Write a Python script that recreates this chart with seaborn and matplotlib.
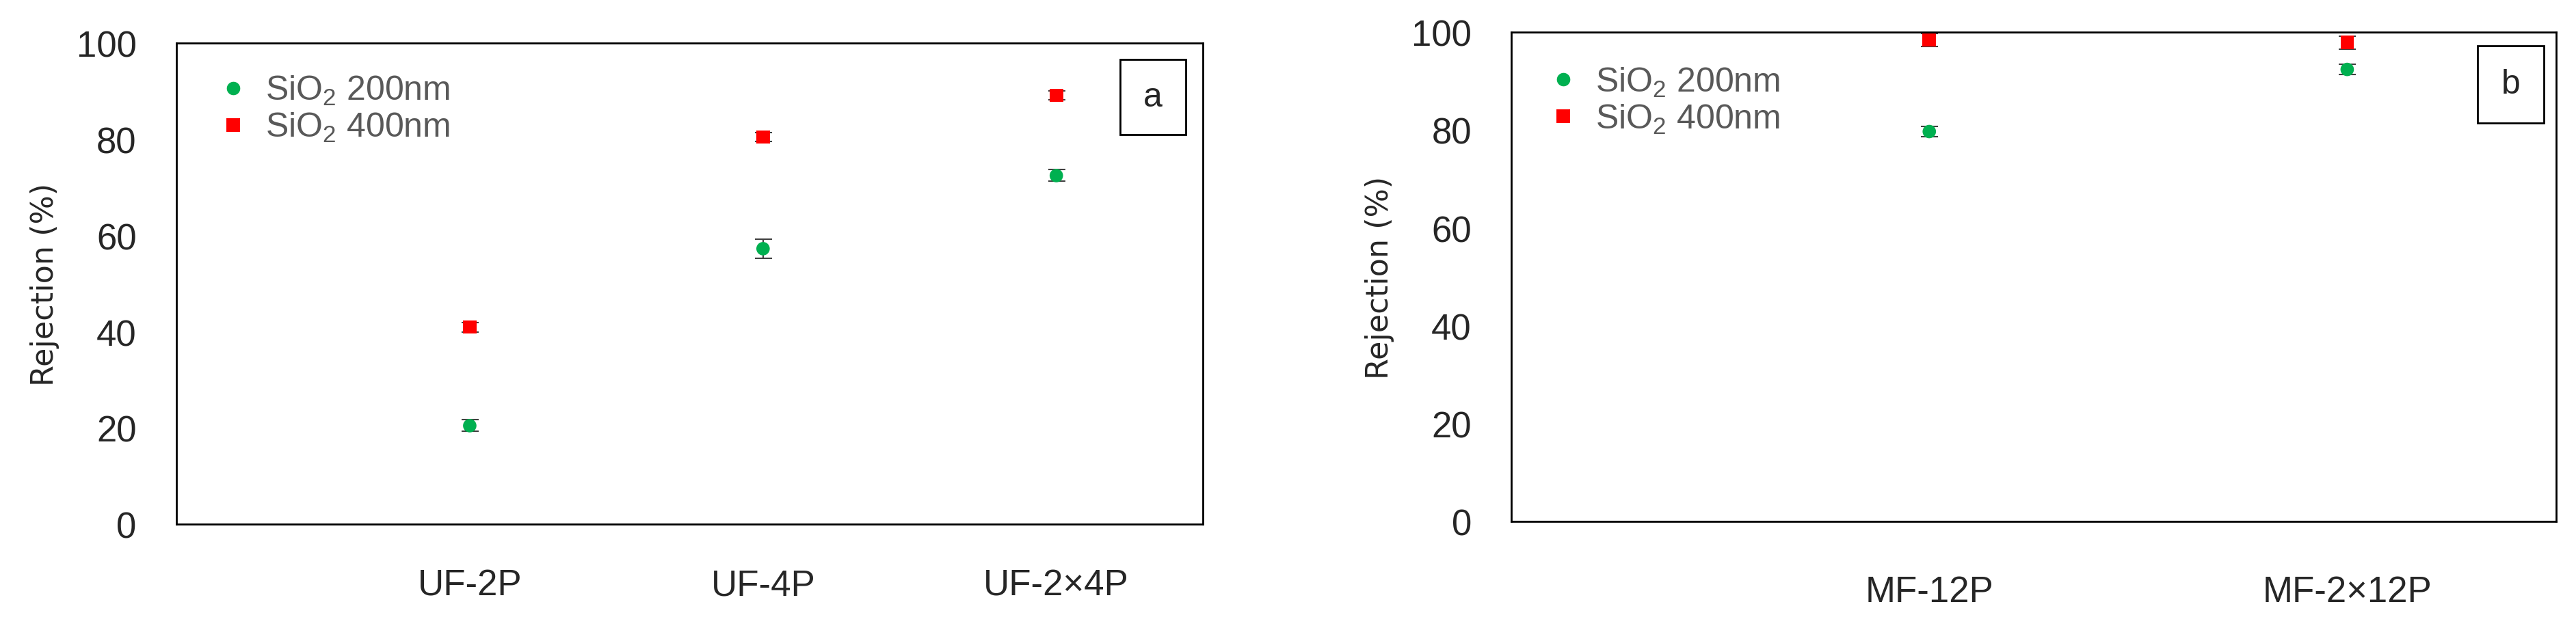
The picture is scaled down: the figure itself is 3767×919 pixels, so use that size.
import numpy as np
import pandas as pd
import matplotlib.pyplot as plt
from matplotlib.patches import Rectangle
import seaborn as sns

# data
uf_labels = ['UF-2P', 'UF-4P', 'UF-2×4P']
uf_200 = [20.5, 57.3, 72.5]
uf_200_err = [1.2, 2.0, 1.2]
uf_400 = [41.0, 80.5, 89.2]
uf_400_err = [1.0, 0.9, 0.9]

mf_labels = ['MF-12P', 'MF-2×12P']
mf_200 = [79.7, 92.4]
mf_200_err = [1.0, 1.0]
mf_400 = [98.4, 97.9]
mf_400_err = [1.3, 1.3]

series_names = ['SiO$_2$ 200nm', 'SiO$_2$ 400nm']

sns.set_theme(style="white")
plt.rcParams['font.family'] = ['Liberation Sans Narrow', 'Liberation Sans', 'DejaVu Sans']
plt.rcParams['mathtext.default'] = 'regular'

palette = {series_names[0]: '#00B050', series_names[1]: '#FF0000'}
markers = {series_names[0]: 'o', series_names[1]: 's'}


def make_df(labels, v200, e200, v400, e400):
    pos = np.arange(1, len(labels) + 1)
    d1 = pd.DataFrame({'pos': pos, 'val': v200, 'err': e200, 'series': series_names[0]})
    d2 = pd.DataFrame({'pos': pos, 'val': v400, 'err': e400, 'series': series_names[1]})
    return pd.concat([d1, d2], ignore_index=True)


def draw_panel(ax, df, labels, tag, xmax, leg_anchor, box, xpad):
    for name in series_names:
        sub = df[df['series'] == name]
        ax.errorbar(sub['pos'], sub['val'], yerr=sub['err'], fmt='none',
                    ecolor='#404040', elinewidth=1.5, capsize=9, capthick=1.5, zorder=2)
    sns.scatterplot(data=df, x='pos', y='val', hue='series', style='series',
                    palette=palette, markers=markers, s=200, linewidth=0,
                    ax=ax, zorder=3)
    ax.set_xlim(0, xmax)
    ax.set_ylim(0, 100)
    ax.set_yticks(range(0, 101, 20))
    ax.set_xticks(np.arange(1, len(labels) + 1))
    ax.set_xticklabels(labels)
    ax.tick_params(axis='y', labelsize=38, pad=42, length=0)
    ax.tick_params(axis='x', labelsize=38, pad=xpad, length=0)
    ax.set_xlabel('')
    ax.set_ylabel('Rejection (%)', fontsize=32, family='DejaVu Sans', labelpad=18)
    for sp in ax.spines.values():
        sp.set_visible(True)
        sp.set_color('black')
        sp.set_linewidth(2)

    handles, _ = ax.get_legend_handles_labels()
    leg = ax.legend(handles, series_names, loc='upper left', bbox_to_anchor=leg_anchor,
                    frameon=False, fontsize=36, handlelength=1.0, handletextpad=0.45,
                    labelspacing=0.12, markerscale=1.0, borderaxespad=0)
    for t in leg.get_texts():
        t.set_color('#595959')

    x0, y0, x1, y1 = box
    ax.add_patch(Rectangle((x0, y0), x1 - x0, y1 - y0, transform=ax.transAxes,
                           fill=False, edgecolor='black', linewidth=2, zorder=4))
    ax.text((x0 + x1) / 2, (y0 + y1) / 2, tag, transform=ax.transAxes,
            ha='center', va='center', fontsize=36, family='Liberation Sans', zorder=5)


fig = plt.figure(figsize=(37.67, 9.2), dpi=100)
ax1 = fig.add_axes([0.0685, 0.165, 0.3985, 0.765])
ax2 = fig.add_axes([0.5867, 0.1696, 0.4056, 0.778])

df_uf = make_df(uf_labels, uf_200, uf_200_err, uf_400, uf_400_err)
df_mf = make_df(mf_labels, mf_200, mf_200_err, mf_400, mf_400_err)

draw_panel(ax1, df_uf, uf_labels, 'a', 3.5, (0.025, 0.965), (0.919, 0.810, 0.983, 0.966), 46)
draw_panel(ax2, df_mf, mf_labels, 'b', 2.5, (0.02, 0.96), (0.925, 0.814, 0.988, 0.973), 56)

fig.savefig('out.png', dpi=100)
